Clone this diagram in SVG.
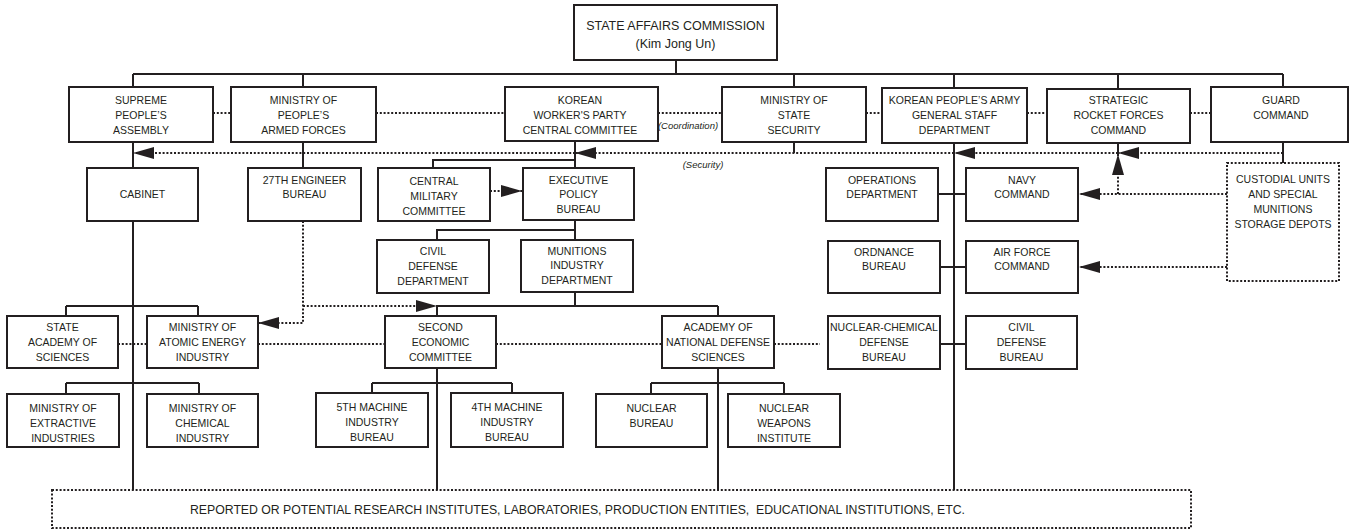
<svg xmlns="http://www.w3.org/2000/svg" width="1353" height="530" viewBox="0 0 1353 530">
<style>
.box{fill:#fff;stroke:#231f20;stroke-width:2}
.dbox{fill:#fff;stroke:#231f20;stroke-width:2;stroke-dasharray:2 1.8}
.ln{fill:none;stroke:#231f20;stroke-width:2}
.dl{fill:none;stroke:#231f20;stroke-width:2;stroke-dasharray:2 1.8}
.arr{marker-end:url(#ah)}
text{font-family:"Liberation Sans",Arial,sans-serif;font-size:10.5px;fill:#231f20;text-anchor:middle}
.t{font-size:12.5px}
.it{font-style:italic;font-size:9.5px}
.big{font-size:12.3px;text-anchor:start}
</style>
<defs>
<marker id="ah" markerUnits="userSpaceOnUse" markerWidth="22" markerHeight="12" refX="21" refY="6" orient="auto">
<path d="M0,0 L21,6 L0,12 Z" fill="#231f20" stroke="none"/>
</marker>
</defs>
<rect width="1353" height="530" fill="#fff"/>
<g id="connectors">
<path class="ln" d="M676,60V74M133,74H1283M133,74V87M303,74V87M794,74V87M954,74V88M1118,74V89M1283,74V87"/>
<path class="ln" d="M133,142V168M303,142V168M575,141V168M575,160H433V168M794,142V153M1118,143V153M954,143V490M1283,142V163"/>
<path class="ln" d="M938,194H966M940,267H966M940,344H966"/>
<path class="ln" d="M575,220V240M575,230H437V240M575,292V306M437,306H718M437,306V316M718,306V316"/>
<path class="ln" d="M133,221V490M66,306H198M66,306V316M198,306V316M66,383H199M66,383V394M199,383V394"/>
<path class="ln" d="M437,368V490M372,383H512M372,383V393M512,383V393"/>
<path class="ln" d="M718,368V490M651,383H784M651,383V394M784,383V394"/>
<path class="dl" d="M213,113H231M376,113H505M658,113H722M866,113H882M1027,113H1047M1190,113H1211"/>
<path class="dl arr" d="M1283,153H1118"/>
<path class="dl arr" d="M1118,153H954"/>
<path class="dl arr" d="M954,153H575"/>
<path class="dl arr" d="M575,153H133"/>
<path class="dl arr" d="M490,191H522"/>
<path class="dl arr" d="M303,221V323H258"/>
<path class="dl arr" d="M303,306H437"/>
<path class="dl" d="M118,344H147M258,344H385M496,344H662M774,344H820"/>
<path class="dl arr" d="M1227,194H1079"/>
<path class="dl arr" d="M1118,194V154"/>
<path class="dl arr" d="M1227,267H1079"/>
<text class="it" x="688" y="129">(Coordination)</text>
<text class="it" x="703" y="168">(Security)</text>
</g>
<g id="sac"><rect class="box" x="574" y="5" width="203" height="55"/><text class="t" x="675.5" y="30">STATE AFFAIRS COMMISSION</text><text class="t" x="675.5" y="48">(Kim Jong Un)</text></g>
<g id="spa"><rect class="box" x="69" y="87" width="144" height="55"/><text x="141" y="104">SUPREME</text><text x="141" y="119">PEOPLE’S</text><text x="141" y="134">ASSEMBLY</text></g>
<g id="mopaf"><rect class="box" x="231" y="87" width="145" height="55"/><text x="303.5" y="104">MINISTRY OF</text><text x="303.5" y="119">PEOPLE’S</text><text x="303.5" y="134">ARMED FORCES</text></g>
<g id="kwp"><rect class="box" x="505" y="87" width="153" height="54"/><text x="580" y="104">KOREAN</text><text x="580" y="119">WORKER'S PARTY</text><text x="580" y="134">CENTRAL COMMITTEE</text></g>
<g id="mss"><rect class="box" x="722" y="87" width="144" height="55"/><text x="794" y="104">MINISTRY OF</text><text x="794" y="119">STATE</text><text x="794" y="134">SECURITY</text></g>
<g id="kpa"><rect class="box" x="882" y="88" width="145" height="55"/><text x="954.5" y="104">KOREAN PEOPLE’S ARMY</text><text x="954.5" y="119">GENERAL STAFF</text><text x="954.5" y="134">DEPARTMENT</text></g>
<g id="srf"><rect class="box" x="1047" y="89" width="143" height="54"/><text x="1118.5" y="104">STRATEGIC</text><text x="1118.5" y="119">ROCKET FORCES</text><text x="1118.5" y="134">COMMAND</text></g>
<g id="guard"><rect class="box" x="1211" y="87" width="137" height="55"/><text x="1281" y="104">GUARD</text><text x="1281" y="119">COMMAND</text></g>
<g id="cabinet"><rect class="box" x="87" y="168" width="111" height="53"/><text x="142.5" y="198">CABINET</text></g>
<g id="eng27"><rect class="box" x="248" y="168" width="113" height="53"/><text x="304.5" y="184">27TH ENGINEER</text><text x="304.5" y="198">BUREAU</text></g>
<g id="cmc"><rect class="box" x="378" y="168" width="112" height="53"/><text x="434" y="185">CENTRAL</text><text x="434" y="200">MILITARY</text><text x="434" y="215">COMMITTEE</text></g>
<g id="epb"><rect class="box" x="523" y="168" width="111" height="52"/><text x="578.5" y="184">EXECUTIVE</text><text x="578.5" y="198">POLICY</text><text x="578.5" y="213">BUREAU</text></g>
<g id="ops"><rect class="box" x="826" y="168" width="112" height="53"/><text x="882" y="184">OPERATIONS</text><text x="882" y="198">DEPARTMENT</text></g>
<g id="navy"><rect class="box" x="966" y="168" width="112" height="53"/><text x="1022" y="184">NAVY</text><text x="1022" y="198">COMMAND</text></g>
<g id="custodial"><rect class="dbox" x="1227" y="163" width="112" height="118"/><text x="1283" y="183">CUSTODIAL UNITS</text><text x="1283" y="198">AND SPECIAL</text><text x="1283" y="213">MUNITIONS</text><text x="1283" y="228">STORAGE DEPOTS</text></g>
<g id="cdd"><rect class="box" x="377" y="240" width="112" height="53"/><text x="433" y="255">CIVIL</text><text x="433" y="270">DEFENSE</text><text x="433" y="285">DEPARTMENT</text></g>
<g id="mid"><rect class="box" x="521" y="240" width="112" height="52"/><text x="577" y="255">MUNITIONS</text><text x="577" y="269">INDUSTRY</text><text x="577" y="284">DEPARTMENT</text></g>
<g id="ordnance"><rect class="box" x="828" y="241" width="112" height="52"/><text x="884" y="256">ORDNANCE</text><text x="884" y="270">BUREAU</text></g>
<g id="airforce"><rect class="box" x="966" y="241" width="112" height="52"/><text x="1022" y="256">AIR FORCE</text><text x="1022" y="270">COMMAND</text></g>
<g id="sas"><rect class="box" x="7" y="316" width="111" height="52"/><text x="62.5" y="331">STATE</text><text x="62.5" y="346">ACADEMY OF</text><text x="62.5" y="361">SCIENCES</text></g>
<g id="moaei"><rect class="box" x="147" y="316" width="111" height="52"/><text x="202.5" y="331">MINISTRY OF</text><text x="202.5" y="346">ATOMIC ENERGY</text><text x="202.5" y="361">INDUSTRY</text></g>
<g id="sec"><rect class="box" x="385" y="316" width="111" height="52"/><text x="440.5" y="331">SECOND</text><text x="440.5" y="346">ECONOMIC</text><text x="440.5" y="361">COMMITTEE</text></g>
<g id="aonds"><rect class="box" x="662" y="316" width="112" height="52"/><text x="718" y="331">ACADEMY OF</text><text x="718" y="346">NATIONAL DEFENSE</text><text x="718" y="361">SCIENCES</text></g>
<g id="ncdb"><rect class="box" x="828" y="316" width="112" height="53"/><text x="884" y="331">NUCLEAR-CHEMICAL</text><text x="884" y="346">DEFENSE</text><text x="884" y="361">BUREAU</text></g>
<g id="cdb"><rect class="box" x="966" y="316" width="111" height="53"/><text x="1021.5" y="331">CIVIL</text><text x="1021.5" y="346">DEFENSE</text><text x="1021.5" y="361">BUREAU</text></g>
<g id="moei"><rect class="box" x="7" y="394" width="112" height="53"/><text x="63" y="412">MINISTRY OF</text><text x="63" y="427">EXTRACTIVE</text><text x="63" y="442">INDUSTRIES</text></g>
<g id="moci"><rect class="box" x="147" y="394" width="111" height="53"/><text x="202.5" y="412">MINISTRY OF</text><text x="202.5" y="427">CHEMICAL</text><text x="202.5" y="442">INDUSTRY</text></g>
<g id="m5"><rect class="box" x="316" y="393" width="112" height="54"/><text x="372" y="411">5TH MACHINE</text><text x="372" y="426">INDUSTRY</text><text x="372" y="441">BUREAU</text></g>
<g id="m4"><rect class="box" x="451" y="393" width="112" height="54"/><text x="507" y="411">4TH MACHINE</text><text x="507" y="426">INDUSTRY</text><text x="507" y="441">BUREAU</text></g>
<g id="nb"><rect class="box" x="596" y="394" width="111" height="53"/><text x="651.5" y="412">NUCLEAR</text><text x="651.5" y="427">BUREAU</text></g>
<g id="nwi"><rect class="box" x="728" y="394" width="112" height="53"/><text x="784" y="412">NUCLEAR</text><text x="784" y="427">WEAPONS</text><text x="784" y="442">INSTITUTE</text></g>
<g id="research"><rect class="dbox" x="52" y="490" width="1139" height="38"/><text class="big" x="190" y="514" xml:space="preserve" textLength="775" lengthAdjust="spacing">REPORTED OR POTENTIAL RESEARCH INSTITUTES, LABORATORIES, PRODUCTION ENTITIES,  EDUCATIONAL INSTITUTIONS, ETC.</text></g>
</svg>
